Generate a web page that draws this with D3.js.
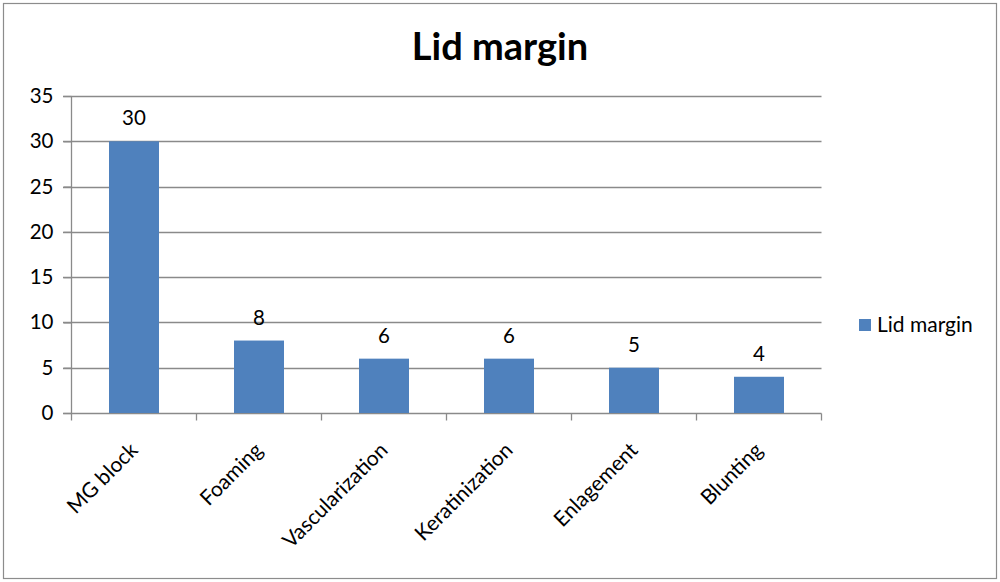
<!DOCTYPE html>
<html><head><meta charset="utf-8">
<script src="https://cdn.jsdelivr.net/npm/d3@7"></script>
<style>html,body{margin:0;padding:0;background:#fff;}svg{display:block;}</style>
</head><body>
<svg id="chart" width="1000" height="582"></svg>
<script>
const categories = ["MG block","Foaming","Vascularization","Keratinization","Enlagement","Blunting"];
const values = [30, 8, 6, 6, 5, 4];
const yTicks = [0,5,10,15,20,25,30,35];
const seriesName = "Lid margin";
const title = "Lid margin";

const font = "Lato, 'Open Sans', sans-serif";
const svg = d3.select("#chart");
svg.append("rect").attr("x",3.5).attr("y",3.5).attr("width",993).attr("height",575)
  .attr("fill","#fff").attr("stroke","#8c8c8c").attr("stroke-width",1.2);

const x = d3.scaleBand().domain(categories).range([71.5, 821.5]).paddingInner(0.6).paddingOuter(0.3);
const xb = d3.scaleBand().domain(categories).range([71.5, 821.5]);
const y = d3.scaleLinear().domain([0,35]).range([413, 96]);

// gridlines
svg.append("g").selectAll("line").data(yTicks.filter(d=>d>0)).join("line")
  .attr("x1",63).attr("x2",821.5).attr("y1",d=>Math.round(y(d))+0.5).attr("y2",d=>Math.round(y(d))+0.5)
  .attr("stroke","#8a8a8a").attr("stroke-width",1.3);

// y axis
const yAxis = d3.axisLeft(y).tickValues(yTicks).tickSize(8).tickPadding(10);
const gy = svg.append("g").attr("transform","translate(71.5,0)").call(yAxis);
gy.select(".domain").attr("stroke","#8a8a8a").attr("stroke-width",1.3).attr("d","M0,96V413");
gy.selectAll(".tick line").attr("stroke","#8a8a8a").attr("stroke-width",1.3);
gy.selectAll(".tick text").attr("font-family",font).attr("font-size",20.5).attr("fill","#000");

// x axis
const gx = svg.append("g").attr("transform","translate(0,413.5)");
gx.append("line").attr("x1",63).attr("x2",821.5).attr("stroke","#8a8a8a").attr("stroke-width",1.3);
const bounds = categories.map(c=>xb(c)).concat([xb.range()[1]]);
gx.selectAll("line.t").data(bounds).join("line").attr("class","t")
  .attr("x1",d=>d).attr("x2",d=>d).attr("y1",0).attr("y2",7).attr("stroke","#8a8a8a").attr("stroke-width",1.3);
gx.selectAll("text").data(categories).join("text")
  .attr("transform",d=>`translate(${xb(d)+xb.bandwidth()/2+5},${38}) rotate(-45)`)
  .attr("text-anchor","end").attr("font-family",font).attr("font-size",21).attr("fill","#000").text(d=>d);

// bars
const data = categories.map((c,i)=>({c, v: values[i]}));
svg.append("g").selectAll("rect").data(data).join("rect")
  .attr("x",d=>x(d.c)).attr("width",x.bandwidth())
  .attr("y",d=>y(d.v)).attr("height",d=>y(0)-y(d.v)).attr("fill","#4f81bd");

// data labels
svg.append("g").selectAll("text").data(data).join("text")
  .attr("x",d=>x(d.c)+x.bandwidth()/2).attr("y",d=>y(d.v)-16)
  .attr("text-anchor","middle").attr("font-family",font).attr("font-size",20.5).attr("fill","#000")
  .text(d=>d.v);

// title
svg.append("text").attr("x",500).attr("y",60).attr("text-anchor","middle")
  .attr("font-family",font).attr("font-weight","bold").attr("font-size",38).attr("fill","#000").text(title);

// legend
svg.append("rect").attr("x",859).attr("y",319).attr("width",12).attr("height",12).attr("fill","#4f81bd");
svg.append("text").attr("x",877).attr("y",332).attr("font-family",font).attr("font-size",21).attr("fill","#000").text(seriesName);
</script>
</body></html>
